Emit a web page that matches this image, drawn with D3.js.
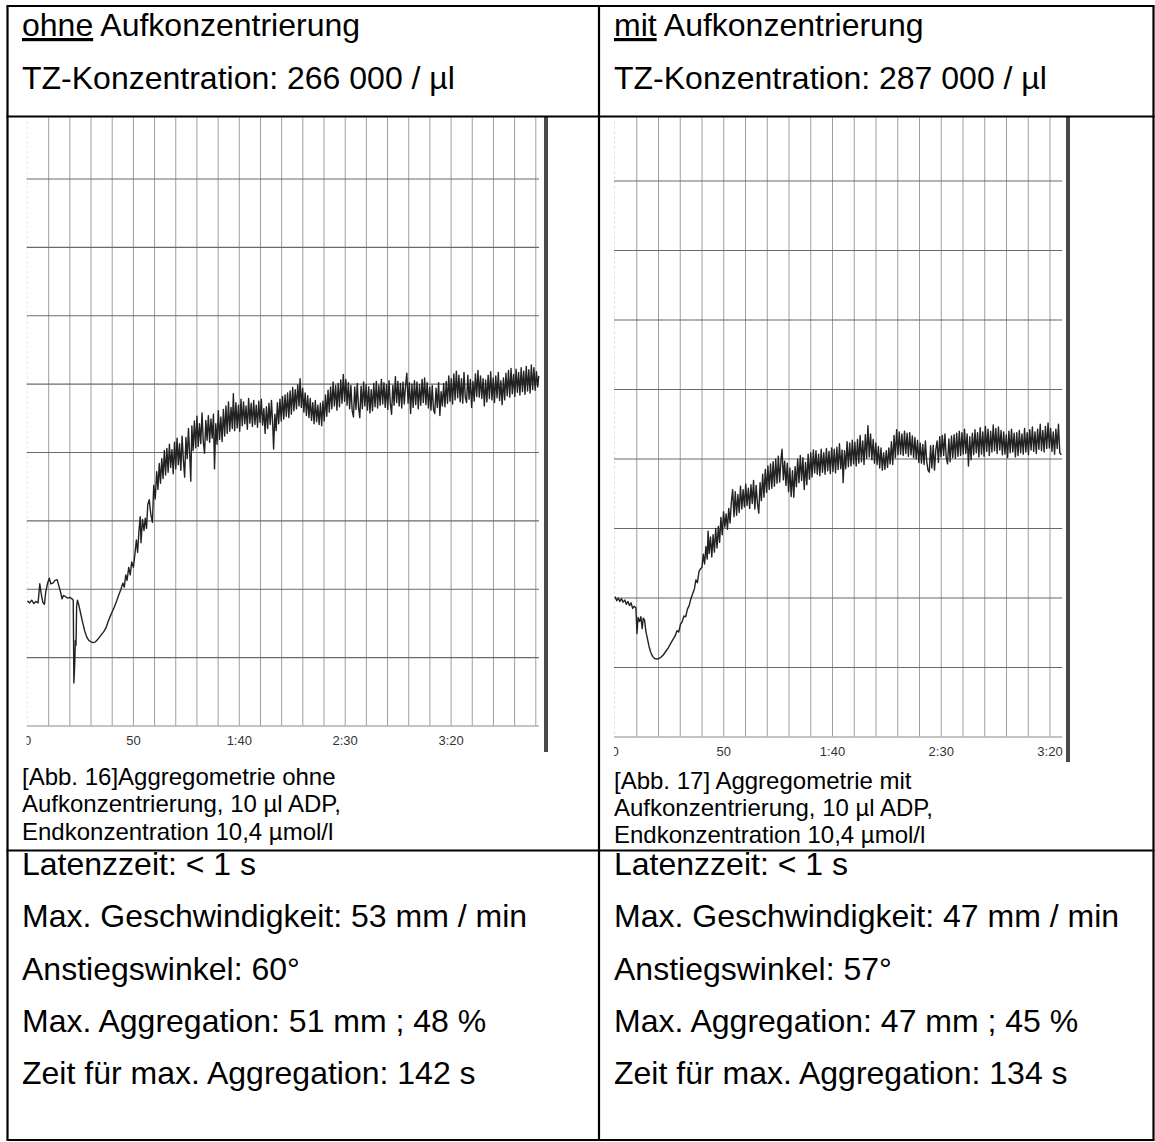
<!DOCTYPE html>
<html>
<head>
<meta charset="utf-8">
<script src="https://cdn.jsdelivr.net/npm/d3@7"></script>
<style>
  html, body { margin: 0; padding: 0; background: #fff; }
  svg { display: block; }
</style>
</head>
<body>
<div id="app"></div>
<script>
// header + caption + result texts
const headTitles = [
  { key: 'ohne', rest: ' Aufkonzentrierung' },
  { key: 'mit', rest: ' Aufkonzentrierung' }
];
const headConc = ['TZ-Konzentration: 266 000 / µl', 'TZ-Konzentration: 287 000 / µl'];
const captions = [
  ['[Abb. 16]Aggregometrie ohne', 'Aufkonzentrierung, 10 µl ADP,', 'Endkonzentration 10,4 µmol/l'],
  ['[Abb. 17] Aggregometrie mit', 'Aufkonzentrierung, 10 µl ADP,', 'Endkonzentration 10,4 µmol/l']
];
const leftStats = ['Latenzzeit: < 1 s', 'Max. Geschwindigkeit: 53 mm / min', 'Anstiegswinkel: 60°',
  'Max. Aggregation: 51 mm ; 48 %', 'Zeit für max. Aggregation: 142 s'];
const rightStats = ['Latenzzeit: < 1 s', 'Max. Geschwindigkeit: 47 mm / min', 'Anstiegswinkel: 57°',
  'Max. Aggregation: 47 mm ; 45 %', 'Zeit für max. Aggregation: 134 s'];

// time axis (seconds) and tick labels
const tickSecs = [0, 50, 100, 150, 200];
const tickLabels = ['0', '50', '1:40', '2:30', '3:20'];
const gridLevels = [10, 20, 30, 40, 50, 60, 70, 80];

// traces: [seconds, level]
const leftTrace = [
  [0, 18.3], [1, 18.0], [2, 18.4], [3, 17.9], [4, 18.2], [5, 18.0], [5.8, 20.8], [6.4, 19.5], [7.2, 18.1], [8, 17.8],
  [8.6, 19.6], [9.5, 20.9], [10.3, 21.6], [11, 20.8], [12, 20.9], [13, 21.3], [14, 21.4], [14.8, 20.5], [15.6, 19.6],
  [16.3, 18.6], [17, 19.1], [18, 18.9], [19, 18.7], [20, 18.8], [21, 18.6], [21.6, 18.4],
  [21.9, 6.3], [22.3, 9], [22.6, 12.5], [22.9, 11.8], [23.2, 17.5], [23.6, 18.4], [24.3, 17.6], [25, 16.6], [26, 15.2],
  [27, 13.9], [28, 13], [29, 12.5], [30, 12.3], [31, 12.2], [32, 12.3], [33, 12.6], [34, 13], [35, 13.4], [36, 13.8],
  [37, 14.3], [38, 15.2], [39, 16], [40, 16.7], [41, 17.4], [42, 18.2], [43, 19.1], [44, 19.9], [45, 20.9], [45.7, 20.3],
  [46.4, 22.1], [47, 21.3], [47.8, 23.2], [48.5, 22.1], [49.2, 24], [50, 23.2], [50.7, 25.1], [51.4, 27.2], [52, 25.4],
  [52.6, 28.4], [53.2, 30.6], [53.6, 26.8], [54.3, 30.2], [55, 28.6], [55.6, 30.4], [56.2, 28.9], [56.8, 32.4], [57.5, 33.1],
  [58.2, 31], [59, 29.8], [59.6, 35.2], [60.3, 33.2], [61, 37.2], [61.6, 34.6], [62.2, 38.4], [62.8, 35.5], [63.4, 39.1],
  [64, 36.2], [64.6, 40.3], [65.2, 36.7], [65.8, 40.6], [66.4, 37.1], [67, 41.2], [67.6, 37.8], [68.2, 40.4], [68.8, 36.9],
  [69.4, 41.5], [70, 37.6], [70.6, 42.1], [71.2, 38.2], [71.8, 41.3], [72.4, 37.4], [73, 42.4], [73.6, 38.9], [74.2, 36.4],
  [74.8, 42.2], [75.4, 39.1], [76, 43.5], [76.6, 39.6], [77.1, 35.8], [77.6, 43.9], [78.2, 40.3], [78.8, 44.6], [79.4, 40.7],
  [80, 45.3], [80.6, 40.9], [81.2, 44.2], [81.8, 41.3], [82.4, 45.8], [83, 41.6], [83.6, 39.9], [84.2, 44.7], [84.8, 41.8],
  [85.4, 45.4], [86, 41.5], [86.6, 44.9], [87.2, 42.1], [87.8, 45.6], [88.3, 37.6], [88.9, 44.2], [89.5, 41.2], [90.1, 46.1],
  [90.7, 41.9], [91.3, 45.2], [91.9, 41.6], [92.5, 46.3], [93.1, 42.4], [93.7, 46.8], [94.3, 42.8], [94.9, 47.4], [95.5, 43.1],
  [96.1, 46.6], [96.7, 43.5], [97.2, 48.6], [97.8, 43.2], [98.4, 47.3], [99, 43.6], [99.6, 46.9], [100.2, 43.1], [100.8, 47.8],
  [101.4, 43.9], [102, 47.4], [102.6, 44.2], [103.2, 46.8], [103.8, 43.4], [104.4, 47.9], [105, 44.3], [105.6, 47.2],
  [106.2, 43.8], [106.8, 47.6], [107.4, 44.1], [108, 46.9], [108.6, 43.7], [109.2, 47.5], [109.8, 44.4], [110.4, 47.8],
  [111, 44], [111.6, 46.4], [112.2, 42.8], [112.8, 46.7], [113.4, 43.5], [114, 47.2], [114.6, 44.1], [115.2, 47.6],
  [115.8, 43.9], [116.2, 40.5], [116.8, 45.6], [117.4, 43.2], [118, 47.3], [118.6, 44.2], [119.2, 47.8], [119.8, 44.6],
  [120.4, 48.2], [121, 44.9], [121.6, 48.4], [122.2, 45.3], [122.8, 48.7], [123.4, 45.1], [124, 49], [124.6, 45.6],
  [125.2, 49.5], [125.8, 46.1], [126.4, 49.2], [127, 46.4], [127.6, 49.9], [128.2, 46.8], [128.7, 50.8], [129.3, 46.6],
  [129.9, 49.4], [130.5, 45.9], [131.1, 48.7], [131.7, 45.4], [132.3, 48.3], [132.9, 45.1], [133.5, 47.9], [134.1, 44.7],
  [134.7, 47.3], [135.3, 44.2], [135.9, 47.6], [136.5, 44.5], [137.1, 46.9], [137.7, 44.1], [138.3, 47.2], [138.9, 43.9],
  [139.5, 47.5], [140.1, 44.6], [140.7, 48.4], [141.3, 45.3], [141.9, 49.1], [142.5, 45.9], [143.1, 49.6], [143.7, 46.4],
  [144.3, 50.3], [144.9, 46.8], [145.5, 49.8], [146.1, 46.2], [146.7, 50.1], [147.3, 46.7], [147.9, 50.6], [148.5, 47.2],
  [149.1, 51.4], [149.7, 47.5], [150.3, 50.7], [150.9, 46.9], [151.5, 50.2], [152.1, 46.4], [152.7, 49.8], [153.3, 46.1],
  [153.9, 45.2], [154.5, 49.6], [155.1, 46.3], [155.7, 50.1], [156.3, 46.6], [156.9, 45.1], [157.5, 49.7], [158.1, 46.4],
  [158.7, 50.3], [159.3, 46.8], [159.9, 49.9], [160.5, 46.2], [161.1, 49.6], [161.7, 45.8], [162.3, 49.2], [162.9, 46.1],
  [163.5, 50.1], [164.1, 46.7], [164.7, 50.4], [165.3, 46.5], [165.9, 49.8], [166.5, 46.9], [167.1, 50.7], [167.7, 47.1],
  [168.3, 50.2], [168.9, 46.6], [169.5, 49.9], [170.1, 46.3], [170.7, 50.5], [171.3, 47.2], [171.9, 45.6], [172.5, 49.8],
  [173.1, 46.9], [173.7, 51.1], [174.3, 47.3], [174.9, 50.4], [175.5, 46.8], [176.1, 50.1], [176.7, 46.5], [177.3, 50.3],
  [177.9, 47.1], [178.5, 49.8], [179.1, 51.6], [179.7, 47.2], [180.3, 50.2], [180.9, 45.7], [181.5, 50], [182.1, 46.6],
  [182.7, 50.5], [183.3, 47], [183.9, 50.3], [184.5, 46.4], [185.1, 49.9], [185.7, 46.9], [186.3, 50.7], [186.9, 47.3],
  [187.5, 50.9], [188.1, 47], [188.7, 50.2], [189.3, 46.5], [189.9, 49.6], [190.5, 46.2], [191.1, 49.8], [191.7, 46.3],
  [192.3, 45.7], [192.9, 49.4], [193.5, 46.6], [194.1, 50.2], [194.7, 45.4], [195.3, 48.9], [195.9, 46.8], [196.5, 50.1],
  [197.1, 46.7], [197.7, 50.4], [198.3, 47.2], [198.9, 51.2], [199.5, 47.5], [200.1, 50.8], [200.7, 47.1], [201.3, 51.5],
  [201.9, 47.7], [202.5, 51.9], [203.1, 48], [203.7, 51.3], [204.3, 47.4], [204.9, 50.8], [205.5, 47.2], [206.1, 51.7],
  [206.7, 48.1], [207.3, 47.3], [207.9, 51.3], [208.5, 47.8], [209.1, 50.7], [209.7, 46.6], [210.3, 50.4], [210.9, 47.5],
  [211.5, 51.5], [212.1, 48.2], [212.7, 52], [213.3, 48.1], [213.9, 51.2], [214.5, 47.9], [215.1, 50.8], [215.7, 46.8],
  [216.3, 50.6], [216.9, 47.4], [217.5, 51.3], [218.1, 47.9], [218.7, 51.8], [219.3, 47.7], [219.9, 50.9], [220.5, 47.3],
  [221.1, 51.2], [221.7, 48], [222.3, 51.7], [222.9, 47.6], [223.5, 50.5], [224.1, 47], [224.7, 50.9], [225.3, 47.7],
  [225.9, 51.6], [226.5, 48.3], [227.1, 52], [227.7, 48.1], [228.3, 52.3], [228.9, 48.6], [229.5, 51.4], [230.1, 48.2],
  [230.7, 52.2], [231.3, 48.8], [231.9, 51.7], [232.5, 48.4], [233.1, 52.4], [233.7, 48.9], [234.3, 51.9], [234.9, 48.5],
  [235.5, 52.6], [236.1, 49], [236.7, 52.1], [237.3, 48.7], [237.9, 52.8], [238.5, 49.2], [239.1, 52.4], [239.7, 49.1],
  [240.3, 51.8], [240.9, 49.6], [241.4, 51.2]
];

const rightTrace = [
  [0, 20.2], [0.8, 19.6], [1.5, 20], [2.2, 19.5], [3, 19.9], [3.7, 19.4], [4.5, 19.7], [5.2, 19.1], [6, 19.5], [6.7, 18.9],
  [7.4, 19.3], [8.1, 18.5], [8.8, 18.8], [9.6, 18.6], [10.1, 14.9], [10.6, 17.2], [11.3, 16.6], [11.9, 17.3], [12.5, 15.6],
  [13, 17.1], [13.6, 16.8], [14.2, 15.2], [14.8, 14.3], [15.6, 13.1], [16.4, 12.2], [17.3, 11.6], [18.2, 11.3], [19.2, 11.2],
  [20.2, 11.3], [21.2, 11.5], [22.2, 11.8], [23.3, 12.3], [24.4, 12.8], [25.5, 13.4], [26.6, 14], [27.6, 14.5], [28.5, 15.3],
  [29.3, 15.1], [30.1, 16.2], [30.9, 16.6], [31.7, 17.4], [32.5, 17.3], [33.3, 18.4], [34.1, 18.9], [34.9, 19.9], [35.7, 20.6],
  [36.5, 21.3], [37.2, 22.6], [37.9, 22.2], [38.6, 23.8], [39.3, 24.2], [40, 24.4], [40.6, 26.3], [41.2, 24.9], [41.8, 27.4],
  [42.4, 25.6], [42.8, 29.6], [43.3, 26.4], [43.9, 28.8], [44.5, 25.9], [45.1, 29.1], [45.7, 26.6], [46.3, 30], [46.9, 27.2],
  [47.5, 30.3], [48.1, 28], [48.7, 31.6], [49.3, 29.1], [49.9, 32.4], [50.5, 30.2], [51.1, 32.1], [51.7, 29.9], [52.3, 32.9],
  [52.9, 30.8], [53.5, 33.8], [54.1, 35.6], [54.7, 31.7], [55.3, 35.3], [55.9, 31.9], [56.5, 34.9], [57.1, 32.3], [57.7, 36.1],
  [58.3, 32.8], [58.9, 35.6], [59.5, 33.1], [60.1, 36.4], [60.7, 33.3], [61.3, 35.8], [61.9, 32.9], [62.5, 36.3], [63.1, 33.6],
  [63.7, 36.9], [64.3, 32.8], [64.9, 36.2], [65.5, 33.6], [66.1, 32.2], [66.7, 36.6], [67.3, 34], [67.9, 37.8], [68.5, 34.5],
  [69.1, 38.5], [69.7, 35.2], [70.3, 39], [70.9, 35.6], [71.5, 39.3], [72.1, 35.8], [72.7, 39.6], [73.3, 36.1], [73.9, 40],
  [74.5, 36.5], [75.1, 40.4], [75.7, 36.7], [76.3, 39.9], [76.8, 41.4], [77.4, 37], [78, 39.7], [78.6, 36.2], [79.2, 39.4],
  [79.8, 35.3], [80.4, 38.7], [81, 34.6], [81.6, 38.3], [82.2, 34.5], [82.8, 38.9], [83.4, 36], [84, 40], [84.6, 36.6],
  [85.2, 40.5], [85.8, 36.9], [86.4, 40.2], [87, 35.6], [87.6, 39.5], [88.2, 36.3], [88.8, 40.7], [89.4, 37.1], [90, 40.9],
  [90.6, 37.4], [91.2, 41.3], [91.8, 38], [92.4, 41.2], [93, 37.8], [93.6, 40.7], [94.2, 37.6], [94.8, 41.4], [95.4, 38.1],
  [96, 40.9], [96.6, 37.8], [97.2, 41.5], [97.8, 38.3], [98.4, 41.1], [99, 37.9], [99.6, 41.6], [100.2, 38.2], [100.8, 41.4],
  [101.4, 38], [102, 41.7], [102.6, 38.5], [103.2, 42.2], [103.8, 38.6], [104.4, 41.3], [104.9, 36.6], [105.5, 41.2],
  [106.1, 38.6], [106.7, 42.5], [107.3, 38.9], [107.9, 42.3], [108.5, 39], [109.1, 42.7], [109.7, 39.3], [110.3, 42.4],
  [110.9, 39], [111.5, 42.8], [112.1, 39.4], [112.7, 43.4], [113.3, 39.6], [113.9, 42.6], [114.5, 39.2], [115.1, 43.5],
  [115.7, 40.1], [116.3, 44.8], [116.9, 40.3], [117.5, 43.6], [118.1, 39.9], [118.7, 42.8], [119.3, 39.4], [119.9, 42.3],
  [120.5, 39.2], [121.1, 41.8], [121.7, 38.7], [122.3, 41.6], [122.9, 38.4], [123.5, 40.9], [124.1, 38.5], [124.7, 41.2],
  [125.3, 38.8], [125.9, 41.6], [126.5, 39.3], [127.1, 42.5], [127.7, 39.2], [128.3, 43.4], [128.9, 40.2], [129.5, 44.2],
  [130.1, 40.6], [130.7, 43.9], [131.3, 40.7], [131.9, 43.6], [132.5, 40.5], [133.1, 44], [133.7, 40.8], [134.3, 43.7],
  [134.9, 40.4], [135.5, 43.8], [136.1, 40.6], [136.7, 43.3], [137.3, 40.2], [137.9, 43.1], [138.5, 40], [139.1, 42.7],
  [139.7, 39.5], [140.3, 42.3], [140.9, 39.4], [141.5, 42.1], [142.1, 39.2], [142.7, 42.6], [143.3, 39.7], [143.9, 38.4],
  [144.5, 38.1], [145.1, 41.9], [145.7, 38.7], [146.3, 42], [146.9, 38.4], [147.5, 41.3], [148.1, 42.6], [148.7, 39.5],
  [149.3, 43.2], [149.9, 40.3], [150.5, 43.4], [151.1, 40.5], [151.7, 43.6], [152.3, 40.2], [152.9, 39.3], [153.5, 42.9],
  [154.1, 39.6], [154.7, 43.3], [155.3, 40.2], [155.9, 43.5], [156.5, 40.1], [157.1, 43.7], [157.7, 40.4], [158.3, 44],
  [158.9, 40.5], [159.5, 43.8], [160.1, 40.7], [160.7, 44.3], [161.3, 40.8], [161.9, 43.6], [162.5, 39], [163.1, 43.2],
  [163.7, 39.9], [164.3, 43.7], [164.9, 40.6], [165.5, 44.2], [166.1, 40.9], [166.7, 43.8], [167.3, 40.3], [167.9, 44.5],
  [168.5, 40.7], [169.1, 43.9], [169.7, 40.4], [170.3, 44.7], [170.9, 41.1], [171.5, 44.3], [172.1, 40.5], [172.7, 44],
  [173.3, 41], [173.9, 44.9], [174.5, 41.2], [175.1, 44.4], [175.7, 40.8], [176.3, 44.6], [176.9, 41.3], [177.5, 44.1],
  [178.1, 40.6], [178.7, 43.9], [179.3, 40.7], [179.9, 43.5], [180.5, 40.2], [181.1, 44], [181.7, 40.9], [182.3, 44.3],
  [182.9, 41], [183.5, 43.7], [184.1, 40.3], [184.7, 43.8], [185.3, 40.5], [185.9, 44.1], [186.5, 40.9], [187.1, 43.6],
  [187.7, 40.7], [188.3, 44.4], [188.9, 41], [189.5, 43.8], [190.1, 40.6], [190.7, 44.2], [191.3, 41.3], [191.9, 44.6],
  [192.5, 41.1], [193.1, 43.9], [193.7, 40.8], [194.3, 44.3], [194.9, 41.4], [195.5, 45], [196.1, 41.2], [196.7, 44.1],
  [197.3, 41], [197.9, 44.7], [198.5, 41.5], [199.1, 45.2], [199.7, 41.6], [200.3, 44.4], [200.9, 41.1], [201.5, 43.9],
  [202.1, 40.7], [202.7, 44.3], [203.3, 41.5], [203.9, 45], [204.5, 40.9], [205.2, 40.6]
];

(() => {
  const W = 1155;
  const H = 1142;
  const font = '"Liberation Sans", Arial, Helvetica, sans-serif';
  const tableLeft = 7.5;
  const tableRight = 1153.5;
  const tableTop = 6;
  const tableBottom = 1140;
  const colSplit = 599;
  const headBottom = 116.5;
  const chartBottom = 850.5;

  const svg = d3.select('#app')
    .append('svg')
    .attr('width', W)
    .attr('height', H)
    .style('font-family', font);

  const defs = svg.append('defs');

  const panels = [
    {
      trace: leftTrace, tMax: 240, tEnd: 241.5, x0: 27.5, x1: 535.8, yTop: 179, yBot: 726,
      barX: 546, barBottom: 752, textX: 22, capY: 785, stats: leftStats
    },
    {
      trace: rightTrace, tMax: 200, tEnd: 205.6, x0: 615, x1: 1050, yTop: 181, yBot: 737,
      barX: 1068, barBottom: 762, textX: 614, capY: 788.5, stats: rightStats
    }
  ];

  panels.forEach((p, i) => {
    const x = d3.scaleLinear().domain([0, p.tMax]).range([p.x0, p.x1]);
    const y = d3.scaleLinear().domain([0, 80]).range([p.yBot, p.yTop]);
    const right = x(p.tEnd);
    const left = p.x0 - 1;

    // clip so the scan looks cut off at the row border and on the left
    defs.append('clipPath').attr('id', `clip-${i}`)
      .append('rect')
      .attr('x', left)
      .attr('y', headBottom + 1)
      .attr('width', right - left + 1)
      .attr('height', p.yBot + 40 - headBottom);

    const g = svg.append('g').attr('clip-path', `url(#clip-${i})`);

    // faint left edge of the scanned paper
    g.append('line')
      .attr('x1', left + 0.5).attr('x2', left + 0.5)
      .attr('y1', headBottom).attr('y2', p.yBot)
      .style('stroke', '#d8d8d8')
      .style('stroke-dasharray', '2,3');

    // vertical grid every 10 s
    g.selectAll('.vgrid')
      .data(d3.range(10, p.tMax + 1, 10))
      .enter()
      .append('line')
      .attr('x1', d => x(d)).attr('x2', d => x(d))
      .attr('y1', headBottom).attr('y2', p.yBot)
      .style('stroke', '#9e9e9e')
      .style('stroke-width', 1);

    // horizontal grid
    g.selectAll('.hgrid')
      .data(gridLevels)
      .enter()
      .append('line')
      .attr('x1', left).attr('x2', right)
      .attr('y1', d => y(d)).attr('y2', d => y(d))
      .style('stroke', '#6a6a6a')
      .style('stroke-width', 1.1);

    // base line
    g.append('line')
      .attr('x1', left).attr('x2', right)
      .attr('y1', p.yBot).attr('y2', p.yBot)
      .style('stroke', '#b0b0b0')
      .style('stroke-width', 1.5);

    // trace
    const line = d3.line()
      .x(d => x(d[0]))
      .y(d => y(d[1]));

    g.append('path')
      .datum(p.trace)
      .attr('d', line)
      .style('fill', 'none')
      .style('stroke', '#222')
      .style('stroke-width', 1.4)
      .style('stroke-linejoin', 'round');

    // time labels
    g.selectAll('.tick')
      .data(tickSecs)
      .enter()
      .append('text')
      .text((d, j) => tickLabels[j])
      .attr('x', d => x(d))
      .attr('y', p.yBot + 19)
      .attr('font-size', 13)
      .style('fill', '#333')
      .style('text-anchor', 'middle');

    // thick dark edge at the right of the scan
    svg.append('line')
      .attr('x1', p.barX).attr('x2', p.barX)
      .attr('y1', headBottom).attr('y2', p.barBottom)
      .style('stroke', '#4a4a4a')
      .style('stroke-width', 4);

    // caption under the scan
    svg.append('text')
      .attr('font-size', 24)
      .style('fill', '#000')
      .selectAll('tspan')
      .data(captions[i])
      .enter()
      .append('tspan')
      .attr('x', p.textX)
      .attr('y', (d, j) => p.capY + j * 27.3)
      .text(d => d);

    // header cell
    const head = svg.append('text')
      .attr('x', p.textX)
      .attr('y', 36)
      .attr('font-size', 32)
      .style('fill', '#000');
    head.append('tspan')
      .style('text-decoration', 'underline')
      .text(headTitles[i].key);
    head.append('tspan').text(headTitles[i].rest);

    svg.append('text')
      .attr('x', p.textX)
      .attr('y', 89)
      .attr('font-size', 32)
      .style('fill', '#000')
      .text(headConc[i]);

    // results cell
    svg.selectAll(`.stat-${i}`)
      .data(p.stats)
      .enter()
      .append('text')
      .attr('x', p.textX)
      .attr('y', (d, j) => 875 + j * 52.3)
      .attr('font-size', 32)
      .style('fill', '#000')
      .text(d => d);
  });

  // table rules
  const rule = (x1, y1, x2, y2) => svg.append('line')
    .attr('x1', x1).attr('y1', y1).attr('x2', x2).attr('y2', y2)
    .style('stroke', '#000')
    .style('stroke-width', 2.2);

  rule(tableLeft - 1, tableTop, tableRight + 1, tableTop);
  rule(tableLeft - 1, headBottom, tableRight + 1, headBottom);
  rule(tableLeft - 1, chartBottom, tableRight + 1, chartBottom);
  rule(tableLeft - 1, tableBottom, tableRight + 1, tableBottom);
  rule(tableLeft, tableTop, tableLeft, tableBottom);
  rule(colSplit, tableTop, colSplit, tableBottom);
  rule(tableRight, tableTop, tableRight, tableBottom);
})();
</script>
</body>
</html>
